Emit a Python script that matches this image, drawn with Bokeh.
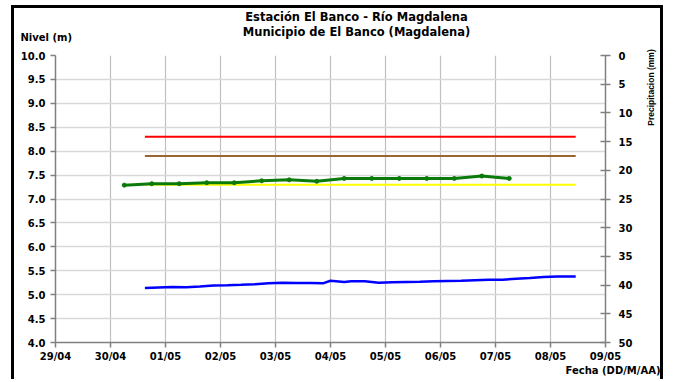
import pandas as pd
from math import pi
from bokeh.plotting import figure
from bokeh.models import (Range1d, LinearAxis, FixedTicker, DatetimeTickFormatter,
                          PrintfTickFormatter, Label)
from bokeh.embed import file_html
from bokeh.resources import INLINE

# ---------------- data ----------------
day_ticks = ["2011-04-29", "2011-04-30", "2011-05-01", "2011-05-02", "2011-05-03",
             "2011-05-04", "2011-05-05", "2011-05-06", "2011-05-07", "2011-05-08",
             "2011-05-09"]
nivel_ticks = [4.0, 4.5, 5.0, 5.5, 6.0, 6.5, 7.0, 7.5, 8.0, 8.5, 9.0, 9.5, 10.0]
precip_ticks = [0, 5, 10, 15, 20, 25, 30, 35, 40, 45, 50]

# green series (12-hourly)
green_times = ["2011-04-30 06:00", "2011-04-30 18:00", "2011-05-01 06:00", "2011-05-01 18:00",
               "2011-05-02 06:00", "2011-05-02 18:00", "2011-05-03 06:00", "2011-05-03 18:00",
               "2011-05-04 06:00", "2011-05-04 18:00", "2011-05-05 06:00", "2011-05-05 18:00",
               "2011-05-06 06:00", "2011-05-06 18:00", "2011-05-07 06:00"]
green_values = [7.29, 7.32, 7.32, 7.34, 7.34, 7.38, 7.40, 7.37, 7.43, 7.43,
                7.43, 7.43, 7.43, 7.48, 7.43]

# blue series
blue_times = ["2011-04-30 15:00", "2011-04-30 21:00", "2011-05-01 03:00", "2011-05-01 09:00",
              "2011-05-01 15:00", "2011-05-01 21:00", "2011-05-02 03:00", "2011-05-02 09:00",
              "2011-05-02 15:00", "2011-05-02 21:00", "2011-05-03 03:00", "2011-05-03 09:00",
              "2011-05-03 15:00", "2011-05-03 21:00", "2011-05-04 00:00", "2011-05-04 06:00",
              "2011-05-04 09:00", "2011-05-04 15:00", "2011-05-04 21:00", "2011-05-05 03:00",
              "2011-05-05 09:00", "2011-05-05 15:00", "2011-05-05 21:00", "2011-05-06 03:00",
              "2011-05-06 09:00", "2011-05-06 15:00", "2011-05-06 21:00", "2011-05-07 03:00",
              "2011-05-07 09:00", "2011-05-07 15:00", "2011-05-07 21:00", "2011-05-08 03:00",
              "2011-05-08 11:00"]
blue_values = [5.14, 5.15, 5.16, 5.155, 5.17, 5.19, 5.195, 5.205, 5.22, 5.24, 5.25, 5.245,
               5.245, 5.24, 5.29, 5.265, 5.28, 5.28, 5.25, 5.26, 5.265, 5.27, 5.28, 5.285,
               5.29, 5.30, 5.31, 5.31, 5.335, 5.35, 5.37, 5.38, 5.38]

# threshold lines
thr_times = ["2011-04-30 15:00", "2011-05-08 11:00"]
thr_red = 8.3
thr_brown = 7.9
thr_yellow = 7.3

title_1 = "Estación El Banco - Río Magdalena"
title_2 = "Municipio de El Banco (Magdalena)"
y_label = "Nivel (m)"
y2_label = "Precipitacion (mm)"
x_label = "Fecha (DD/M/AA)"

# ---------------- layout ----------------
W, H = 652, 374
FL, FT, FW, FH = 41, 47, 550, 287
FONT = "DejaVu Sans"
PAGE_FL, PAGE_FT = 55, 55          # frame corner in page pixels

to_dt = lambda lst: [pd.Timestamp(t) for t in lst]
x0 = pd.Timestamp(day_ticks[0])
x1 = pd.Timestamp(day_ticks[-1])
X0, X1 = x0.value / 1e6, x1.value / 1e6
YB, YT = nivel_ticks[0], nivel_ticks[-1]

def px_to_x(px):
    return X0 + (px - PAGE_FL) / FW * (X1 - X0)

def py_to_y(py):
    return YT - (py - PAGE_FT) / FH * (YT - YB)

p = figure(width=W, height=H, x_axis_type="datetime",
           x_range=Range1d(x0, x1), y_range=Range1d(YB, YT),
           output_backend="svg", toolbar_location=None,
           min_border_left=FL, min_border_top=FT,
           min_border_right=W - FL - FW, min_border_bottom=H - FT - FH)
p.outline_line_color = None
p.background_fill_color = "white"
p.border_fill_color = "white"
p.styles = {"margin-left": "11px", "margin-top": "5px",
            "border-top": "3px solid black", "border-left": "3px solid black",
            "border-right": "3px solid black"}

p.extra_y_ranges = {"precip": Range1d(precip_ticks[-1], precip_ticks[0])}

# axes
xa = p.xaxis[0]
xa.ticker = FixedTicker(ticks=[pd.Timestamp(d).value / 1e6 for d in day_ticks])
xa.formatter = DatetimeTickFormatter(days="%d/%m", months="%d/%m", hours="%d/%m",
                                     years="%d/%m", minutes="%d/%m")
ya = p.yaxis[0]
ya.ticker = FixedTicker(ticks=nivel_ticks)
ya.formatter = PrintfTickFormatter(format="%.1f")

ra = LinearAxis(y_range_name="precip", ticker=FixedTicker(ticks=precip_ticks))
p.add_layout(ra, "right")

for ax in (xa, ya, ra):
    ax.axis_line_color = "#808080"
    ax.axis_line_width = 1.5
    ax.major_tick_line_color = "#808080"
    ax.major_tick_line_width = 1.5
    ax.minor_tick_line_color = None
    ax.major_label_text_font = FONT
    ax.major_label_text_font_style = "bold"
    ax.major_label_text_font_size = "10px"
    ax.major_label_text_color = "black"
xa.major_tick_out = 5
xa.major_tick_in = 0
xa.major_label_standoff = 3
ya.major_tick_out = 5
ya.major_tick_in = 0
ya.major_label_standoff = 5
ra.major_tick_out = 5
ra.major_tick_in = 5
ra.major_label_standoff = 8

p.xgrid.ticker = xa.ticker
p.xgrid.grid_line_color = "#c0c0c0"
p.xgrid.grid_line_width = 1.2
p.ygrid.ticker = ya.ticker
p.ygrid.grid_line_color = "#d9d9d9"
p.ygrid.grid_line_width = 1.5

# thresholds
tt = to_dt(thr_times)
p.line(tt, [thr_red] * 2, line_color="#ff0000", line_width=2)
p.line(tt, [thr_brown] * 2, line_color="#996633", line_width=2)
p.line(tt, [thr_yellow] * 2, line_color="#ffff00", line_width=2)

# series
gt = to_dt(green_times)
p.line(gt, green_values, line_color="#0a7a0a", line_width=3)
p.scatter(gt, green_values, size=4, color="#0a7a0a")
p.line(to_dt(blue_times), blue_values, line_color="#0000ff", line_width=2.5)

# texts: labels placed in side panels so they are not clipped to the frame
def lab(text, px, py, place, size="10px", align="center", angle=0.0, font=FONT):
    p.add_layout(Label(x=px_to_x(px), y=py_to_y(py), text=text, angle=angle,
                       text_font=font, text_font_style="bold", text_font_size=size,
                       text_align=align, text_baseline="middle", text_color="black"),
                 place)

lab(title_1, 356, 16, "above", size="11.5px")
lab(title_2, 356, 31, "above", size="11.5px")
lab(y_label, 20, 37, "above", align="left")
lab(x_label, 660, 370, "below", align="right")
lab(y2_label, 650, 87, "right", size="8.5px", angle=pi / 2, font="Liberation Sans")

open("out.html", "w").write(file_html(p, INLINE))
